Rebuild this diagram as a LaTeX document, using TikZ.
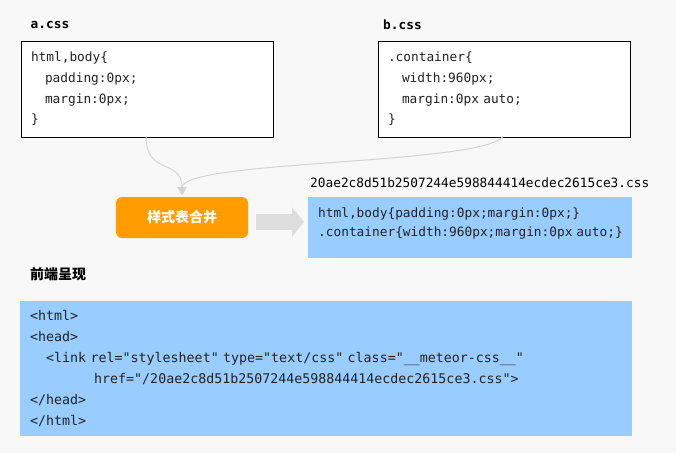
\documentclass[tikz,border=0pt]{standalone}
\usepackage{fontspec}
\setmonofont{DejaVu Sans Mono}
\newfontfamily\codefont{DejaVu Sans Mono}
\newfontfamily\cjk{Noto Sans CJK SC}
\usetikzlibrary{arrows.meta}
\definecolor{bg}{HTML}{F8F8F8}
\definecolor{lightblue}{HTML}{99CCFF}
\definecolor{mergeorange}{HTML}{FF9C00}
\definecolor{connline}{HTML}{D4D4D4}
\definecolor{bigarr}{HTML}{DDDDDD}
\definecolor{codetext}{HTML}{222222}
\tikzset{
  cssbox/.style={draw=black, line width=1pt, fill=white, anchor=north west,
    minimum width=252pt, minimum height=96pt, inner xsep=10pt, inner ysep=0pt,
    text width=232pt, align=left, text=codetext,
    font=\codefont\fontsize{12.8}{20.6}\selectfont},
  filelabel/.style={anchor=west, inner sep=0pt, font=\codefont\bfseries\fontsize{12.8}{15}\selectfont},
  bluebox/.style={fill=lightblue, draw=none, anchor=north west, inner xsep=10pt, inner ysep=0pt,
    align=left, text=codetext},
  mergebox/.style={fill=mergeorange, draw=none, rounded corners=6pt, minimum width=132pt,
    minimum height=41pt, inner sep=0pt, text=white, font=\cjk\bfseries\fontsize{14}{16}\selectfont},
  conn/.style={draw=connline, line width=1pt, -{Triangle[width=9pt,length=8pt,fill=connline]}},
  bigarrow/.style={draw=bigarr, line width=16pt, -{Triangle[length=12pt,width=29pt]}}
}
\begin{document}
\begin{tikzpicture}[x=1pt,y=-1pt]
\fill[bg] (0,0) rectangle (676,453);
\useasboundingbox (0,0) rectangle (676,453);

\node[filelabel] (alab) at (30.5,25) {a.css};
\node[filelabel] (blab) at (383,25) {b.css};

\node[cssbox] (a) at (20.5,40.5) {html,body\{\\\hspace*{14pt}padding:0px;\\\hspace*{14pt}margin:0px;\\\}};
\node[cssbox] (b) at (377.5,40.5) {.container\{\\\hspace*{14pt}width:960px;\\\hspace*{14pt}margin:0px auto;\\\}};

\node[mergebox] (m) at (182,217.5) {样式表合并};

\node[anchor=west, inner sep=0pt, font=\codefont\fontsize{12.8}{15}\selectfont, text=black] (fn) at (310,183) {20ae2c8d51b2507244e598844414ecdec2615ce3.css};

\node[fill=lightblue, draw=none, anchor=north west, inner xsep=10pt, inner ysep=0pt, text=codetext,
  font=\codefont\fontsize{12.8}{20}\selectfont] (c) at (308,197)
  {\parbox[c][61pt][t]{304pt}{\vspace*{10pt}\mbox{html,body\{padding:0px;margin:0px;\}}\\\mbox{.container\{width:960px;margin:0px\hspace{4pt}auto;\}}}};

\coordinate (aout) at (146,136.5);
\coordinate (bout) at (503,136.5);
\draw[conn, shorten >=1.5pt] (aout) .. controls (146,176) and (182,158) .. (m.north);
\draw[conn, shorten >=1.5pt] (bout) .. controls (480,165) and (182,160) .. (m.north);

\draw[bigarrow, shorten <=8pt, shorten >=4pt] ([yshift=-4.5pt]m.east) -- ([yshift=-4.5pt]m.east -| c.west);

\node[anchor=west, inner sep=0pt, font=\cjk\bfseries\fontsize{14}{16}\selectfont, text=black] (fe) at (30,274) {前端呈现};

\node[bluebox, minimum width=612pt, minimum height=135pt, text width=592pt,
  font=\codefont\fontsize{13.3}{20.9}\selectfont] (d) at (20,301)
  {<html>\\<head>\\\hspace*{16pt}<link rel="stylesheet" type="text/css" class="\_\_meteor-css\_\_"\\\hspace*{64pt}href="/20ae2c8d51b2507244e598844414ecdec2615ce3.css">\\</head>\\</html>};
\end{tikzpicture}
\end{document}
